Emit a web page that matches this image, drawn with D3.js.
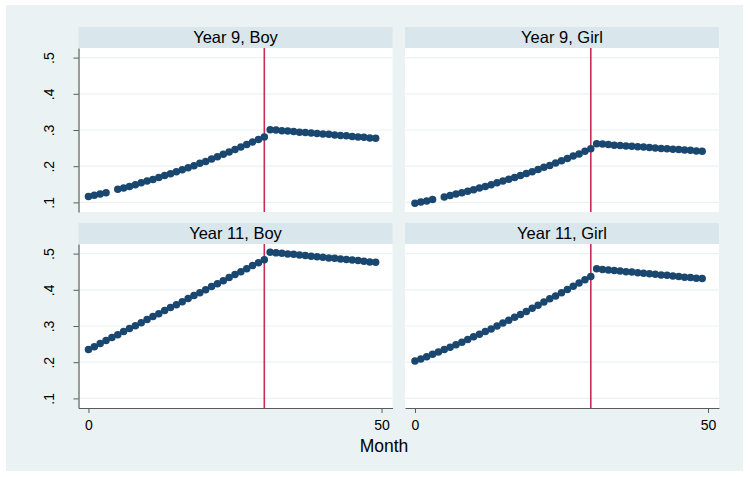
<!DOCTYPE html>
<html>
<head>
<meta charset="utf-8">
<script src="https://cdn.jsdelivr.net/npm/d3@7"></script>
<style>
  html, body { margin: 0; padding: 0; background: #ffffff; }
  svg { display: block; font-family: "Liberation Sans", Arial, Helvetica, sans-serif; }
</style>
</head>
<body>
<script>
// ---------- data ----------
const panelTitles = ["Year 9, Boy", "Year 9, Girl", "Year 11, Boy", "Year 11, Girl"];

// Year 9 panels have no observation at month 4
const monthsY9 = [0,1,2,3,5,6,7,8,9,10,11,12,13,14,15,16,17,18,19,20,21,22,23,24,25,26,27,28,29,30,
                  31,32,33,34,35,36,37,38,39,40,41,42,43,44,45,46,47,48,49];
const monthsY11 = [0,1,2,3,4,5,6,7,8,9,10,11,12,13,14,15,16,17,18,19,20,21,22,23,24,25,26,27,28,29,30,
                   31,32,33,34,35,36,37,38,39,40,41,42,43,44,45,46,47,48,49];

const y9Boy = [0.116,0.120,0.123,0.127,
  0.136,0.140,0.144,0.149,0.154,0.159,0.163,0.169,0.174,0.179,0.185,0.190,0.196,0.201,0.208,0.213,
  0.220,0.226,0.233,0.239,0.246,0.253,0.260,0.267,0.274,0.281,
  0.301,0.300,0.298,0.297,0.296,0.294,0.293,0.292,0.290,0.289,0.288,0.286,0.285,0.284,0.282,0.281,0.280,0.278,0.277];

const y9Girl = [0.098,0.101,0.104,0.108,
  0.115,0.119,0.123,0.127,0.131,0.135,0.140,0.144,0.149,0.154,0.159,0.164,0.169,0.174,0.180,0.185,
  0.191,0.197,0.202,0.209,0.215,0.221,0.228,0.234,0.241,0.248,
  0.262,0.261,0.260,0.258,0.257,0.256,0.255,0.254,0.253,0.252,0.250,0.249,0.248,0.247,0.246,0.245,0.244,0.242,0.241];

const y11Boy = [0.235,0.243,0.252,0.260,0.268,0.276,0.285,0.293,0.301,0.309,0.318,0.326,0.334,0.343,0.351,
  0.359,0.367,0.376,0.384,0.392,0.400,0.409,0.417,0.425,0.434,0.442,0.450,0.458,0.467,0.475,0.483,
  0.504,0.502,0.501,0.499,0.498,0.496,0.495,0.493,0.491,0.490,0.488,0.487,0.485,0.484,0.482,0.481,0.479,0.477,0.476];

const y11Girl = [0.203,0.209,0.215,0.222,0.228,0.235,0.241,0.248,0.255,0.263,0.270,0.277,0.285,0.292,0.300,
  0.308,0.316,0.324,0.332,0.340,0.349,0.357,0.366,0.375,0.383,0.392,0.401,0.410,0.419,0.428,0.437,
  0.458,0.456,0.455,0.453,0.452,0.450,0.449,0.447,0.446,0.444,0.443,0.441,0.440,0.438,0.437,0.435,0.434,0.432,0.431];

const cutoffMonth = 30;
const yTickValues = [0.1, 0.2, 0.3, 0.4, 0.5];
const yTickLabels = [".1", ".2", ".3", ".4", ".5"];
const xTickValues = [0, 50];
const xTickLabels = ["0", "50"];
const xTitle = "Month";

const panelMonths = [monthsY9, monthsY9, monthsY11, monthsY11];
const panelValues = [y9Boy, y9Girl, y11Boy, y11Girl];

// ---------- layout ----------
const W = 750, H = 477;
const cols = [{x0: 78.5, x1: 392.5}, {x0: 405, x1: 719}];
const rows = [{s0: 27, p0: 48, p1: 212}, {s0: 223, p0: 244, p1: 408}];
const xDomain = [-1.7, 51.87];
const yDomain = [0.0735, 0.5265];

const colors = {
  page: "#ffffff",
  bg: "#eaf2f3",
  strip: "#d9e6eb",
  plot: "#ffffff",
  grid: "#eaf2f3",
  axis: "#5a5a5a",
  marker: "#1a476f",
  vline: "#cb2c55",
  text: "#000000"
};

const svg = d3.select("body").append("svg")
  .attr("width", W).attr("height", H);

svg.append("rect").attr("x", 0).attr("y", 0).attr("width", W).attr("height", H).attr("fill", colors.page);
svg.append("rect").attr("x", 6).attr("y", 5).attr("width", 737).attr("height", 466).attr("fill", colors.bg);

panelTitles.forEach((title, i) => {
  const col = cols[i % 2];
  const row = rows[Math.floor(i / 2)];
  const x = d3.scaleLinear().domain(xDomain).range([col.x0, col.x1]);
  const y = d3.scaleLinear().domain(yDomain).range([row.p1, row.p0]);
  const g = svg.append("g");

  // strip
  g.append("rect").attr("x", col.x0).attr("y", row.s0)
    .attr("width", col.x1 - col.x0).attr("height", row.p0 - row.s0)
    .attr("fill", colors.strip);
  g.append("text").attr("x", (col.x0 + col.x1) / 2).attr("y", (row.s0 + row.p0) / 2)
    .attr("dy", "0.36em").attr("text-anchor", "middle")
    .attr("font-size", 16.5).attr("fill", colors.text).text(title);

  // plot region
  g.append("rect").attr("x", col.x0).attr("y", row.p0)
    .attr("width", col.x1 - col.x0).attr("height", row.p1 - row.p0)
    .attr("fill", colors.plot);

  // gridlines
  g.selectAll("line.grid").data(yTickValues).enter().append("line")
    .attr("class", "grid")
    .attr("x1", col.x0).attr("x2", col.x1)
    .attr("y1", d => y(d)).attr("y2", d => y(d))
    .attr("stroke", colors.grid).attr("stroke-width", 1.2);

  // cutoff line
  g.append("line")
    .attr("x1", x(cutoffMonth)).attr("x2", x(cutoffMonth))
    .attr("y1", row.p0).attr("y2", row.p1)
    .attr("stroke", colors.vline).attr("stroke-width", 1.6);

  // markers
  const pts = panelMonths[i].map((m, k) => ({m: m, v: panelValues[i][k]}));
  g.selectAll("circle").data(pts).enter().append("circle")
    .attr("cx", d => x(d.m)).attr("cy", d => y(d.v))
    .attr("r", 3.75).attr("fill", colors.marker);

  // y axis (left column)
  if (i % 2 === 0) {
    const ya = g.append("g").attr("transform", `translate(${col.x0},0)`)
      .call(d3.axisLeft(y).tickValues(yTickValues)
        .tickFormat((d, k) => yTickLabels[k]).tickSize(5).tickSizeOuter(0));
    ya.select(".domain").attr("stroke", colors.axis).attr("stroke-width", 1.2);
    ya.selectAll(".tick line").attr("stroke", colors.axis).attr("stroke-width", 1);
    ya.selectAll(".tick text")
      .attr("transform", "rotate(-90)")
      .attr("x", 0).attr("y", -24.5).attr("dy", 0)
      .attr("text-anchor", "middle")
      .attr("font-size", 14).attr("fill", colors.text);
    ya.attr("font-family", null).attr("font-size", null);
  }

  // x axis (bottom row)
  if (Math.floor(i / 2) === 1) {
    const xa = g.append("g").attr("transform", `translate(0,${row.p1})`)
      .call(d3.axisBottom(x).tickValues(xTickValues)
        .tickFormat((d, k) => xTickLabels[k]).tickSize(5).tickSizeOuter(0));
    xa.select(".domain").attr("stroke", colors.axis).attr("stroke-width", 1.2);
    xa.selectAll(".tick line").attr("stroke", colors.axis).attr("stroke-width", 1);
    xa.selectAll(".tick text")
      .attr("y", 22).attr("dy", 0)
      .attr("font-size", 14).attr("fill", colors.text);
    xa.attr("font-family", null).attr("font-size", null);
  }
});

svg.append("text").attr("x", 384).attr("y", 452)
  .attr("text-anchor", "middle").attr("font-size", 17.5)
  .attr("fill", colors.text).text(xTitle);
</script>
</body>
</html>
